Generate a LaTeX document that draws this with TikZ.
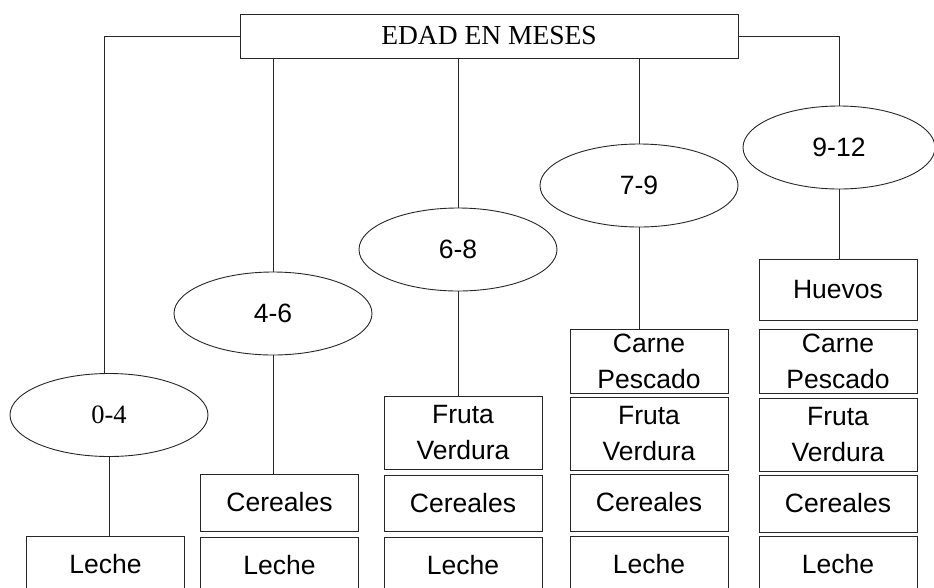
\documentclass[tikz,border=0pt]{standalone}
\usepackage{fontspec}
\setmainfont{Liberation Serif}
\setsansfont{Liberation Sans}
\usetikzlibrary{shapes}

\begin{document}
\begin{tikzpicture}[x=1pt,y=-1pt]
    \tikzstyle{every node}=[draw=black!85,line width=0.9pt,inner sep=0pt,align=center]
    \tikzstyle{edad}=[rectangle,minimum width=498pt,minimum height=44pt,font=\rmfamily\fontsize{27.5}{30}\selectfont]
    \tikzstyle{rango}=[ellipse,minimum width=198pt,minimum height=83pt,font=\sffamily\fontsize{26.5}{30}\selectfont]
    \tikzstyle{grupo}=[rectangle,minimum width=158pt,minimum height=57pt,font=\sffamily\fontsize{26.5}{36}\selectfont]
    \tikzstyle{doble}=[grupo,minimum height=73pt]
    \tikzstyle{rama}=[draw=black!85,line width=0.9pt]
    \clip (0,0) rectangle (934,587);
    \node[edad] (meses) at (489,36) {EDAD EN MESES};
    \node[rango,font=\rmfamily\fontsize{26.5}{30}\selectfont] (r04) at (109,415) {0-4};
    \node[rango] (r46) at (273,313.5) {4-6};
    \node[rango] (r68) at (458,249.5) {6-8};
    \node[rango] (r79) at (639,185.5) {7-9};
    \node[rango,minimum width=192pt] (r912) at (839,147.5) {9-12};
    \node[grupo] (leche1) at (105.5,564.5) {Leche};
    \node[grupo] (cereales2) at (279.5,502.5) {Cereales};
    \node[grupo] (leche2) at (279.5,565.5) {Leche};
    \node[doble] (fruta3) at (463,432.5) {Fruta\\Verdura};
    \node[grupo,minimum height=56pt] (cereales3) at (463,503) {Cereales};
    \node[grupo] (leche3) at (463,565.5) {Leche};
    \node[doble,minimum height=64pt] (carne4) at (649,361) {Carne\\Pescado};
    \node[doble] (fruta4) at (649,434) {Fruta\\Verdura};
    \node[grupo] (cereales4) at (649,502.5) {Cereales};
    \node[grupo] (leche4) at (649,564.5) {Leche};
    \node[grupo,minimum height=61pt] (huevos5) at (838,289.5) {Huevos};
    \node[doble,minimum height=64pt] (carne5) at (838,361) {Carne\\Pescado};
    \node[doble] (fruta5) at (838,434.5) {Fruta\\Verdura};
    \node[grupo] (cereales5) at (838,503.5) {Cereales};
    \node[grupo] (leche5) at (838,564.5) {Leche};
    \draw[rama] (meses.west) -| ([xshift=-5pt]r04.north);
    \draw[rama] (meses.east) -| (r912.north);
    \draw[rama] (r46.north |- meses.south) -- (r46.north);
    \draw[rama] (r68.north |- meses.south) -- (r68.north);
    \draw[rama] (r79.north |- meses.south) -- (r79.north);
    \draw[rama] (r04.south) -- (r04.south |- leche1.north);
    \draw[rama] (r46.south) -- (r46.south |- cereales2.north);
    \draw[rama] (r68.south) -- (r68.south |- fruta3.north);
    \draw[rama] (r79.south) -- (r79.south |- carne4.north);
    \draw[rama] (r912.south) -- (r912.south |- huevos5.north);
\end{tikzpicture}
\end{document}
